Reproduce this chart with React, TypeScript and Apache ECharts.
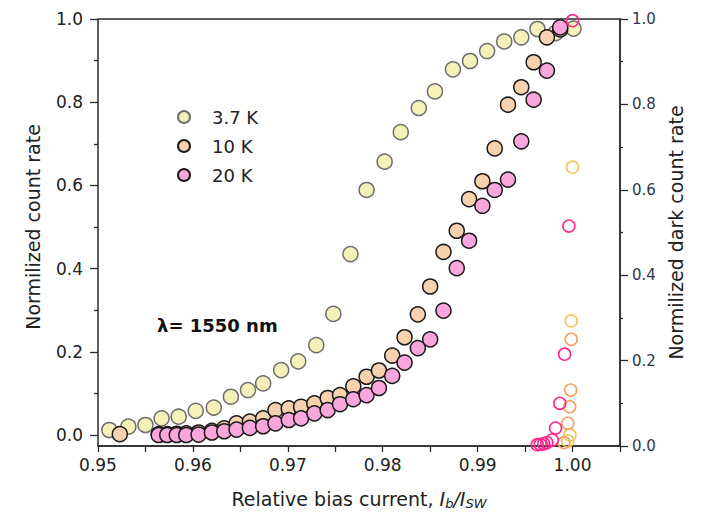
import React, { useEffect, useRef } from "react";
import * as echarts from "echarts";

const FONT = "'DejaVu Sans', Verdana, sans-serif";

// 3.7 K photon count rate (left axis)
const x37K = [0.9512, 0.9532, 0.955, 0.9567, 0.9585, 0.9603, 0.9622, 0.964, 0.9658, 0.9674, 0.9693, 0.9711, 0.973, 0.9748, 0.9766, 0.9783, 0.9802, 0.9819, 0.9838, 0.9855, 0.9874, 0.9892, 0.991, 0.9928, 0.9946, 0.9963, 0.9982, 1.0001];
const y37K = [0.012, 0.02, 0.024, 0.04, 0.044, 0.058, 0.066, 0.092, 0.108, 0.124, 0.156, 0.177, 0.216, 0.291, 0.435, 0.589, 0.657, 0.728, 0.786, 0.826, 0.879, 0.899, 0.923, 0.946, 0.956, 0.976, 0.966, 0.977];

// 10 K photon count rate (left axis)
const x10K = [0.9523, 0.9564, 0.9573, 0.9583, 0.9593, 0.9606, 0.962, 0.9633, 0.9646, 0.966, 0.9674, 0.9687, 0.9701, 0.9714, 0.9728, 0.9742, 0.9755, 0.9769, 0.9783, 0.9796, 0.981, 0.9823, 0.9837, 0.985, 0.9864, 0.9878, 0.9891, 0.9905, 0.9918, 0.9932, 0.9946, 0.9959, 0.9973, 0.9987];
const y10K = [0.002, 0.002, 0.002, 0.003, 0.004, 0.006, 0.01, 0.016, 0.028, 0.032, 0.04, 0.06, 0.064, 0.068, 0.076, 0.089, 0.096, 0.117, 0.14, 0.155, 0.191, 0.235, 0.29, 0.357, 0.44, 0.491, 0.567, 0.61, 0.689, 0.794, 0.836, 0.896, 0.956, 0.975];

// 20 K photon count rate (left axis)
const x20K = [0.9564, 0.9573, 0.9583, 0.9593, 0.9606, 0.962, 0.9633, 0.9646, 0.966, 0.9674, 0.9687, 0.9701, 0.9714, 0.9728, 0.9742, 0.9755, 0.9769, 0.9783, 0.9796, 0.981, 0.9823, 0.9837, 0.985, 0.9864, 0.9878, 0.9891, 0.9905, 0.9918, 0.9932, 0.9946, 0.9959, 0.9973, 0.9987];
const y20K = [0.0, 0.0, 0.0, 0.0, 0.001, 0.006, 0.009, 0.013, 0.017, 0.021, 0.028, 0.036, 0.04, 0.052, 0.06, 0.074, 0.086, 0.096, 0.113, 0.142, 0.174, 0.209, 0.23, 0.299, 0.401, 0.467, 0.551, 0.589, 0.614, 0.706, 0.806, 0.876, 0.98];

// dark count rates (right axis)
const xDark37K = [1.0, 0.99986, 0.99972, 0.9995];
const yDark37K = [0.653, 0.293, 0.026, 0.012];
const xDark10K = [0.99986, 0.9998, 0.9997, 0.9995, 0.9991];
const yDark10K = [0.25, 0.131, 0.092, 0.053, 0.008];
const xDark20K = [1.0, 0.99961, 0.99916, 0.99866, 0.99821, 0.99786, 0.9973, 0.99697, 0.9966, 0.99628];
const yDark20K = [0.996, 0.515, 0.215, 0.1, 0.042, 0.014, 0.008, 0.005, 0.004, 0.003];

const legendNames = ["3.7 K", "10 K", "20 K"];

const zip = (xs: number[], ys: number[]) => xs.map((x, i) => [x, ys[i]]);

const AXIS_COLOR = "#2b2b2b";
const TEXT_COLOR = "#222";

export default function App() {
  const ref = useRef<HTMLDivElement>(null);
  useEffect(() => {
    const chart = echarts.init(ref.current!, null, { renderer: "svg" });
    const filled = (name: string, xs: number[], ys: number[], fill: string, border: string, z: number) => ({
      type: "scatter",
      name,
      xAxisIndex: 1,
      yAxisIndex: 0,
      data: zip(xs, ys),
      symbol: "circle",
      symbolSize: 15,
      clip: false,
      z,
      itemStyle: { color: fill, borderColor: border, borderWidth: 1.5, opacity: 1 },
    });
    const open = (name: string, xs: number[], ys: number[], stroke: string, z: number) => ({
      type: "scatter",
      name,
      xAxisIndex: 0,
      yAxisIndex: 1,
      data: zip(xs, ys),
      symbol: "circle",
      symbolSize: 12,
      clip: false,
      z,
      itemStyle: { color: "rgba(255,255,255,0)", borderColor: stroke, borderWidth: 1.6, opacity: 1 },
    });
    chart.setOption({
      animation: false,
      backgroundColor: "#ffffff",
      textStyle: { fontFamily: FONT },
      grid: [
        { left: 98, right: 94, top: 19, bottom: 72, show: true, borderColor: AXIS_COLOR, borderWidth: 1.5, backgroundColor: "rgba(0,0,0,0)" },
        { left: 98, right: 94, top: 19, bottom: 83 },
      ],
      legend: {
        data: legendNames,
        orient: "vertical",
        left: 172,
        top: 102,
        icon: "circle",
        itemWidth: 12,
        itemHeight: 12,
        itemGap: 9,
        textStyle: { fontSize: 18, lineHeight: 20, color: TEXT_COLOR, fontFamily: FONT, padding: [0, 0, 0, 17] },
      },
      xAxis: [
        {
          type: "value",
          gridIndex: 0,
          min: 0.95,
          max: 1.005,
          interval: 0.005,
          name: "Relative bias current, {i|I}{s|b}{i|/I}{s|SW}",
          nameLocation: "middle",
          nameGap: 41,
          nameTextStyle: {
            fontSize: 19,
            color: TEXT_COLOR,
            fontFamily: FONT,
            rich: {
              i: { fontSize: 19, fontStyle: "italic", color: TEXT_COLOR, fontFamily: FONT },
              s: { fontSize: 13, fontStyle: "italic", color: TEXT_COLOR, fontFamily: FONT, verticalAlign: "bottom", padding: [10, 0, 0, 0] },
            },
          },
          axisLine: { show: true, onZero: false, lineStyle: { color: AXIS_COLOR, width: 1.5 } },
          axisTick: { show: true, length: 6, lineStyle: { color: AXIS_COLOR, width: 1.3 } },
          axisLabel: {
            fontSize: 17,
            color: TEXT_COLOR,
            margin: 10,
            fontFamily: FONT,
            formatter: (v: number) => {
              const k = Math.round(v * 1000);
              return k % 10 === 0 && k <= 1000 ? v.toFixed(2) : "";
            },
          },
          splitLine: { show: false },
        },
        { type: "value", gridIndex: 1, min: 0.95, max: 1.005, show: false, splitLine: { show: false } },
      ],
      yAxis: [
        {
          type: "value",
          gridIndex: 1,
          min: 0,
          max: 1,
          interval: 0.2,
          position: "left",
          name: "Normilized count rate",
          nameLocation: "middle",
          nameRotate: 90,
          nameGap: 56,
          nameTextStyle: { fontSize: 19, color: TEXT_COLOR, fontFamily: FONT },
          axisLine: { show: false },
          axisTick: { show: true, length: 8, lineStyle: { color: AXIS_COLOR, width: 1.3 } },
          minorTick: { show: true, splitNumber: 2, length: 4, lineStyle: { color: AXIS_COLOR, width: 1.3 } },
          axisLabel: { fontSize: 17, color: TEXT_COLOR, margin: 15, fontFamily: FONT, formatter: (v: number) => v.toFixed(1) },
          splitLine: { show: false },
        },
        {
          type: "value",
          gridIndex: 0,
          min: 0,
          max: 1,
          interval: 0.2,
          position: "right",
          name: "Normilized dark count rate",
          nameLocation: "middle",
          nameRotate: 90,
          nameGap: 45,
          nameTextStyle: { fontSize: 19, color: TEXT_COLOR, fontFamily: FONT },
          axisLine: { show: true, lineStyle: { color: AXIS_COLOR, width: 1.5 } },
          axisTick: { show: true, length: 8, lineStyle: { color: AXIS_COLOR, width: 1.3 } },
          minorTick: { show: true, splitNumber: 2, length: 3, lineStyle: { color: AXIS_COLOR, width: 1.3 } },
          axisLabel: { fontSize: 15, color: "#2e3650", margin: 12, fontFamily: FONT, formatter: (v: number) => v.toFixed(1) },
          splitLine: { show: false },
        },
      ],
      graphic: [
        {
          type: "text",
          left: 157,
          top: 316,
          style: { text: "λ= 1550 nm", font: `bold 18px ${FONT}`, fill: "#111" },
        },
      ],
      series: [
        filled("3.7 K", x37K, y37K, "#f4f1b9", "#6e6e6e", 2),
        filled("10 K", x10K, y10K, "#f8d2ae", "#1a1a1a", 3),
        filled("20 K", x20K, y20K, "#f9a6dc", "#1a1a1a", 4),
        open("3.7 K dark", xDark37K, yDark37K, "#f2c55e", 5),
        open("10 K dark", xDark10K, yDark10K, "#f6a266", 5),
        open("20 K dark", xDark20K, yDark20K, "#ff2a8c", 6),
      ],
    });
    return () => chart.dispose();
  }, []);
  return <div ref={ref} style={{ position: "fixed", left: 0, top: 0, width: 714, height: 518, background: "#fff" }} />;
}
